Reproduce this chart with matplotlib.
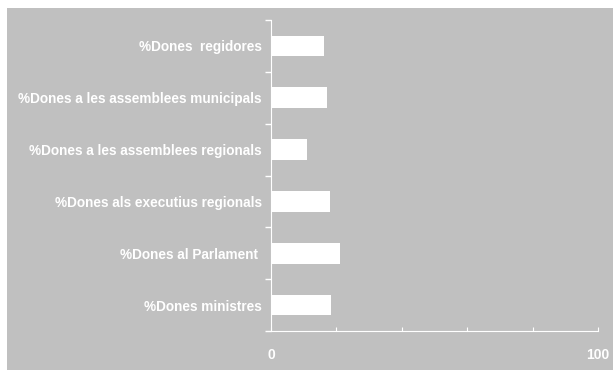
import numpy as np
import matplotlib.pyplot as plt
from matplotlib.patches import Rectangle

categories = ['%Dones  regidores',
              '%Dones a les assemblees municipals',
              '%Dones a les assemblees regionals',
              '%Dones als executius regionals',
              '%Dones al Parlament ',
              '%Dones ministres']
values = [16.2, 17.1, 11.0, 18.0, 21.2, 18.3]

bg = '#c0c0c0'
plt.rcParams['font.family'] = 'Liberation Sans'

fig = plt.figure(figsize=(6.13, 3.70), dpi=100, facecolor='white')
# grey chart area, slightly inset from the top-left corner
fig.patches.append(Rectangle((7 / 613, 0), 606 / 613, 362 / 370,
                             transform=fig.transFigure, facecolor=bg,
                             edgecolor='none', zorder=-10))
ax = fig.add_axes([271 / 613, 1 - 331 / 370, 327 / 613, 311 / 370])
ax.set_facecolor(bg)

y = np.arange(len(categories))
ax.barh(y, values, height=0.4, color='white', zorder=3)
ax.set_ylim(len(categories) - 0.5, -0.5)
ax.set_xlim(0, 100)

ax.set_yticks(y)
ax.set_yticklabels(categories, color='white', fontsize=9.8, fontweight='bold')
ax.set_yticks(np.arange(-0.5, len(categories)), minor=True)
ax.tick_params(axis='y', which='major', length=0, pad=6.5)
ax.tick_params(axis='y', which='minor', length=4, color='white', width=1)

ax.set_xticks(np.arange(0, 101, 20))
ax.set_xticklabels(['0', '', '', '', '', '100'], color='white',
                   fontsize=10, fontweight='bold')
ax.tick_params(axis='x', direction='in', length=3, color='white', pad=12)

for s in ['top', 'right']:
    ax.spines[s].set_visible(False)
for s in ['left', 'bottom']:
    ax.spines[s].set_color('white')

fig.savefig('out.png', dpi=100, facecolor='white')
